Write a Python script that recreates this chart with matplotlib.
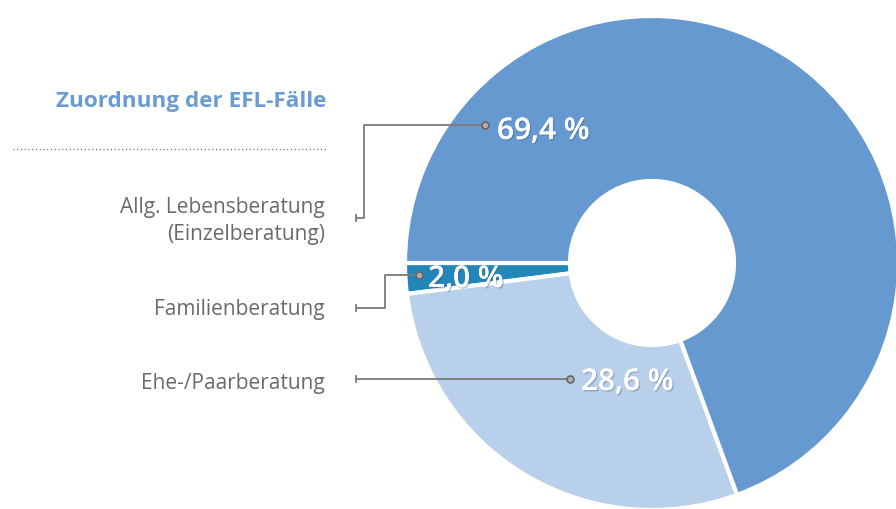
import matplotlib.pyplot as plt
import matplotlib.patheffects as pe

# data
categories = ["Familienberatung", "Ehe-/Paarberatung", "Allg. Lebensberatung\n(Einzelberatung)"]
shares = [2.0, 28.6, 69.4]
value_labels = ["2,0 %", "28,6 %", "69,4 %"]
colors = ["#2386b9", "#b9d0eb", "#6699d0"]
title = "Zuordnung der EFL-Fälle"

W, H = 896, 509
plt.rcParams['font.family'] = ['Open Sans', 'DejaVu Sans']

fig = plt.figure(figsize=(W / 100, H / 100), dpi=100)
ax = fig.add_axes([0, 0, 1, 1])

def Y(y):
    # pixel row -> data y
    return H - y

cx, cy, r_out, r_in = 652, 263, 247, 82
ax.pie(shares, colors=colors, startangle=180, counterclock=True,
       center=(cx, Y(cy)), radius=r_out, frame=True,
       wedgeprops=dict(width=r_out - r_in, edgecolor='white', linewidth=3))
ax.set_xlim(0, W)
ax.set_ylim(0, H)
ax.set_aspect('equal')
ax.axis('off')

# title and dotted rule
ax.text(326, Y(101), title, ha='right', va='center', fontsize=16.2,
        fontweight='bold', color='#6a9bd1')
ax.plot([13, 326], [Y(149), Y(149)], color='#555555', lw=0.9,
        linestyle=(0, (0.8, 2.2)))

gray = '#6a6a6a'
line_c = '#7a7a7a'
shadow = [pe.withSimplePatchShadow(offset=(1, -1), shadow_rgbFace='#3a5a80', alpha=0.35),
          pe.Normal()]

# category labels (right aligned)
label_pos = {"Familienberatung": 309, "Ehe-/Paarberatung": 383,
             "Allg. Lebensberatung\n(Einzelberatung)": 221}
for cat in categories:
    ax.text(325, Y(label_pos[cat]), cat, ha='right', va='center', fontsize=15,
            color=gray, linespacing=1.42, multialignment='right')

# leader lines: list of pixel points from label end to dot
leaders = {
    "Allg. Lebensberatung\n(Einzelberatung)": [(356, 218), (364, 218), (364, 125), (485, 125)],
    "Familienberatung": [(356, 308), (385, 308), (385, 275), (419, 275)],
    "Ehe-/Paarberatung": [(356, 379), (570, 379)],
}
for cat in categories:
    pts = leaders[cat]
    xs = [p[0] for p in pts]
    ys = [Y(p[1]) for p in pts]
    ax.plot(xs, ys, color=line_c, lw=1.3, solid_capstyle='butt', zorder=4)
    ax.plot([xs[0], xs[0]], [ys[0] - 3, ys[0] + 3], color=line_c, lw=1.3, zorder=4)
    ax.plot(xs[-1], ys[-1], 'o', ms=5, mfc='#b0b0b0', mec='#666666', mew=1.2, zorder=5)

# value labels
value_pos = [(428, 279), (581, 382), (497, 131)]
for lab, (x, y) in zip(value_labels, value_pos):
    ax.text(x, Y(y), lab, ha='left', va='center', fontsize=21.5, fontweight='semibold',
            color='white', path_effects=shadow, zorder=6)

fig.savefig('out.png', dpi=100)
